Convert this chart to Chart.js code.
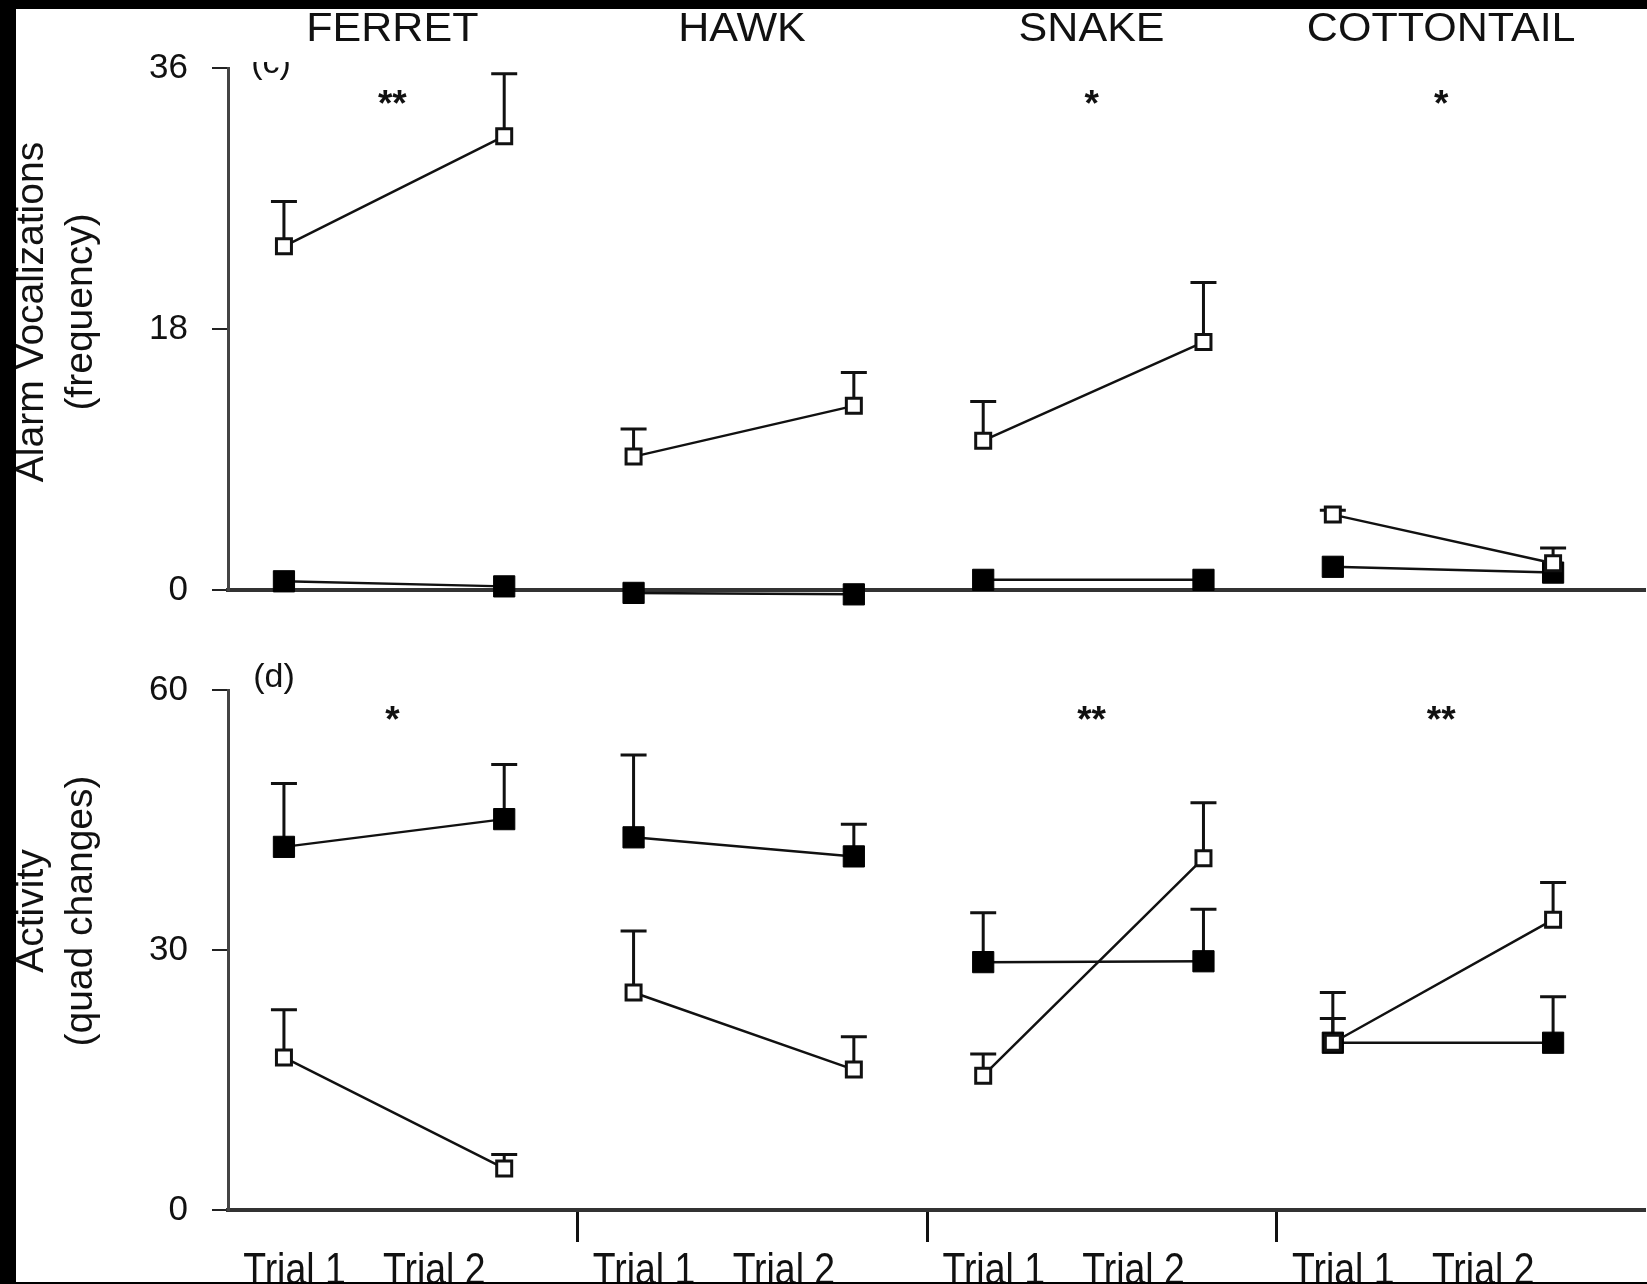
<!DOCTYPE html>
<html>
<head>
<meta charset="utf-8">
<script src="https://cdn.jsdelivr.net/npm/chart.js@4.4.1/dist/chart.umd.min.js"></script>
<style>
  html, body { margin: 0; padding: 0; background: #fff; width: 1647px; height: 1284px; overflow: hidden; }
  #wrap { position: relative; width: 1647px; height: 1284px; background: #fff; }
  canvas { position: absolute; left: 0; display: block; }
  #c1 { top: 0; }
  #c2 { top: 640px; }
  .band { position: absolute; background: #000; z-index: 5; }
</style>
</head>
<body>
<div id="wrap">
  <canvas id="c1" width="1647" height="640"></canvas>
  <canvas id="c2" width="1647" height="644"></canvas>
  <div class="band" style="left:0;top:0;width:1647px;height:9px"></div>
  <div class="band" style="left:0;top:0;width:16px;height:1284px"></div>
  <div class="band" style="left:0;top:1282px;width:1647px;height:2px"></div>
</div>
<script>
// ---------------- data ----------------
const predators = ['FERRET', 'HAWK', 'SNAKE', 'COTTONTAIL'];
const trials = ['Trial 1', 'Trial 2'];

// (c) Alarm vocalizations (frequency): values listed as [Trial 1, Trial 2] for each predator
const alarmOpen      = [23.7, 31.3, 9.2, 12.7, 10.3, 17.1, 5.2, 1.85];
const alarmOpenSE    = [3.1, 4.3, 1.9, 2.3, 2.7, 4.1, 0.3, 1.05];
const alarmFilled    = [0.6, 0.25, -0.2, -0.3, 0.7, 0.7, 1.6, 1.2];
const alarmFilledSE  = [0, 0, 0, 0, 0, 0, 0, 0];
const alarmTicks     = [0, 18, 36];
const alarmSig       = ['**', '', '*', '*'];

// (d) Activity (quad changes)
const activityOpen     = [17.6, 4.8, 25.1, 16.2, 15.5, 40.6, 19.3, 33.5];
const activityOpenSE   = [5.5, 1.6, 7.1, 3.8, 2.5, 6.4, 2.8, 4.3];
const activityFilled   = [41.9, 45.1, 43.0, 40.8, 28.6, 28.7, 19.3, 19.3];
const activityFilledSE = [7.3, 6.3, 9.5, 3.7, 5.7, 6.0, 5.8, 5.3];
const activityTicks    = [0, 30, 60];
const activitySig      = ['*', '', '**', '**'];

// ---------------- layout / style ----------------
const X_MAX = 4.05;               // axis runs a little past the last predator block
const TRIAL_POS = [0.16, 0.79];   // point position of each trial inside a predator block
const LABEL_POS = [0.19, 0.59];   // x-label position of each trial inside a block
const TITLE_POS = 0.47;           // predator title / significance position in block
const FONT = '"Liberation Sans", Arial, Helvetica, sans-serif';
const INK = '#111';

function series(vals) {
  const out = [];
  predators.forEach((p, g) => {
    trials.forEach((t, k) => out.push({ x: g + TRIAL_POS[k], y: vals[g * 2 + k] }));
    if (g < predators.length - 1) out.push({ x: g + 0.95, y: null });
  });
  return out;
}
function seSeries(se) {
  const out = [];
  predators.forEach((p, g) => {
    trials.forEach((t, k) => out.push(se[g * 2 + k]));
    if (g < predators.length - 1) out.push(null);
  });
  return out;
}

const decor = {
  id: 'decor',
  beforeDatasetsDraw(chart) {
    const ctx = chart.ctx, ys = chart.scales.y;
    ctx.save();
    ctx.strokeStyle = INK;
    ctx.lineWidth = 3;
    chart.data.datasets.forEach((ds, i) => {
      const meta = chart.getDatasetMeta(i);
      meta.data.forEach((pt, j) => {
        const d = ds.data[j], e = ds.se[j];
        if (!d || d.y == null || !e) return;
        const yTop = ys.getPixelForValue(d.y + e);
        ctx.beginPath();
        ctx.moveTo(pt.x, pt.y);
        ctx.lineTo(pt.x, yTop);
        ctx.moveTo(pt.x - 13, yTop);
        ctx.lineTo(pt.x + 13, yTop);
        ctx.stroke();
      });
    });
    ctx.restore();
  },
  afterDraw(chart, args, o) {
    const ctx = chart.ctx, xs = chart.scales.x;
    ctx.save();
    ctx.fillStyle = INK;
    ctx.textBaseline = 'alphabetic';
    // predator titles
    if (o.titles) {
      ctx.font = '41px ' + FONT;
      ctx.textAlign = 'center';
      predators.forEach((p, g) => {
        ctx.save();
        ctx.translate(xs.getPixelForValue(g + TITLE_POS), o.titleY);
        ctx.scale(1.05, 1);
        ctx.fillText(p, 0, 0);
        ctx.restore();
      });
    }
    // significance marks
    ctx.font = 'bold 37px ' + FONT;
    ctx.textAlign = 'center';
    o.sig.forEach((s, g) => { if (s) ctx.fillText(s, xs.getPixelForValue(g + TITLE_POS), o.sigY); });
    // panel letter
    ctx.save();
    ctx.beginPath();
    ctx.rect(0, o.panelClip, chart.width, chart.height);
    ctx.clip();
    ctx.font = '34px ' + FONT;
    ctx.fillText(o.panel, o.panelX, o.panelY);
    ctx.restore();
    // y-axis title (two lines, rotated)
    ctx.font = '39px ' + FONT;
    ctx.textAlign = 'center';
    o.yTitle.forEach((line, k) => {
      ctx.save();
      ctx.translate(o.yTitleX[k], o.yTitleY);
      ctx.rotate(-Math.PI / 2);
      ctx.fillText(line, 0, 0);
      ctx.restore();
    });
    // trial labels
    if (o.trialLabels) {
      ctx.font = '44px ' + FONT;
      predators.forEach((p, g) => {
        trials.forEach((t, k) => {
          ctx.save();
          ctx.translate(xs.getPixelForValue(g + LABEL_POS[k]), o.trialY);
          ctx.scale(0.85, 1);
          ctx.fillText(t, 0, 0);
          ctx.restore();
        });
      });
    }
    ctx.restore();
  }
};

function makeChart(id, cfg) {
  return new Chart(document.getElementById(id), {
    type: 'scatter',
    data: {
      datasets: [
        {
          label: 'open', data: series(cfg.open), se: seSeries(cfg.openSE),
          showLine: true, spanGaps: false, order: 0, clip: false,
          borderColor: INK, borderWidth: 2.5,
          pointStyle: 'rect', pointRadius: 10.6, pointHoverRadius: 10.6,
          pointBackgroundColor: '#fff', pointBorderColor: INK, pointBorderWidth: 3
        },
        {
          label: 'filled', data: series(cfg.filled), se: seSeries(cfg.filledSE),
          showLine: true, spanGaps: false, order: 1, clip: false,
          borderColor: INK, borderWidth: 2.5,
          pointStyle: 'rect', pointRadius: 15, pointHoverRadius: 15,
          pointBackgroundColor: '#000', pointBorderColor: '#000', pointBorderWidth: 1
        }
      ]
    },
    options: {
      responsive: false,
      animation: false,
      events: [],
      layout: { autoPadding: false, padding: { top: cfg.padTop, right: 3, left: 0, bottom: 0 } },
      scales: {
        x: {
          type: 'linear', min: 0, max: X_MAX,
          afterBuildTicks: s => { s.ticks = cfg.sepTicks ? predators.slice(1).map((p, g) => ({ value: g + 1 })) : []; },
          afterFit: s => { s.height = cfg.xHeight; },
          ticks: { display: false },
          grid: { display: !!cfg.sepTicks, drawOnChartArea: false, drawTicks: true, tickLength: 32, lineWidth: 3, color: INK },
          border: { display: true, width: 4, color: '#333' }
        },
        y: {
          type: 'linear', min: cfg.ticks[0], max: cfg.ticks[cfg.ticks.length - 1],
          afterBuildTicks: s => { s.ticks = cfg.ticks.map(v => ({ value: v })); },
          afterFit: s => { s.width = 228; },
          ticks: { color: INK, padding: 24, font: { family: FONT, size: 35 } },
          grid: { drawOnChartArea: false, drawTicks: true, tickLength: 16, lineWidth: 2, color: '#222' },
          border: { display: true, width: 3, color: '#444' }
        }
      },
      plugins: {
        legend: { display: false },
        tooltip: { enabled: false },
        decor: cfg.decor
      }
    },
    plugins: [decor]
  });
}

makeChart('c1', {
  open: alarmOpen, openSE: alarmOpenSE, filled: alarmFilled, filledSE: alarmFilledSE,
  ticks: alarmTicks, padTop: 68, xHeight: 50, sepTicks: false,
  decor: {
    titles: true, titleY: 41, sig: alarmSig, sigY: 116,
    panel: '(c)', panelX: 271, panelY: 73, panelClip: 62,
    yTitle: ['Alarm Vocalizations', '(frequency)'], yTitleX: [43, 92], yTitleY: 312,
    trialLabels: false
  }
});

makeChart('c2', {
  open: activityOpen, openSE: activityOpenSE, filled: activityFilled, filledSE: activityFilledSE,
  ticks: activityTicks, padTop: 50, xHeight: 74, sepTicks: true,
  decor: {
    titles: false, sig: activitySig, sigY: 92,
    panel: '(d)', panelX: 274, panelY: 47, panelClip: 0,
    yTitle: ['Activity', '(quad changes)'], yTitleX: [43, 92], yTitleY: 271,
    trialLabels: true, trialY: 644
  }
});
</script>
</body>
</html>
